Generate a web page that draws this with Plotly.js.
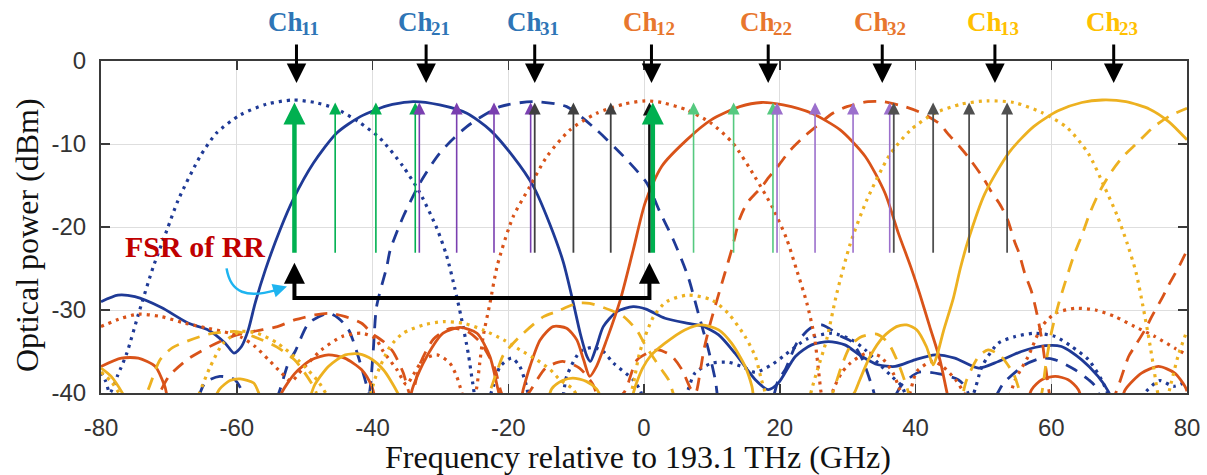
<!DOCTYPE html>
<html><head><meta charset="utf-8">
<script src="https://cdn.plot.ly/plotly-3.0.1.min.js"></script>
<style>html,body{margin:0;padding:0;background:#fff}#chart{width:1207px;height:475px}</style>
</head><body><div id="chart"></div>
<script>
// ---- data: [frequency GHz, power dBm] ----
const ch11Dot = [[-80,-37.5],[-79.3,-38.6],[-78.7,-40],[-77.5,-37.8],[-76.2,-35.2],[-74.3,-30],[-72.3,-24.8],[-70.3,-20.4],[-68.6,-16.7],[-65.4,-11.5],[-63,-8.7],[-59.5,-6.5],[-55.6,-5.2],[-51.7,-4.7],[-48.5,-5.0],[-45.5,-5.7],[-42.1,-7.3],[-38.9,-9.3],[-35.5,-12.7],[-33,-15.9],[-30.5,-20.2],[-29.1,-23.4],[-27.9,-27.3],[-26.9,-31],[-25.9,-35.2],[-25.2,-39],[-24.3,-43],[-23,-41],[-22.2,-39.2],[-21.2,-36.8],[-19.5,-35.8],[-18.3,-36.8],[-17.3,-39.2],[-16.3,-43],[-12.5,-42],[-11.4,-38.0],[-9.4,-35.0],[-7.5,-34.5],[-6,-35.0],[-4.5,-36.4],[-1.6,-38.4],[-0.6,-39.6],[0.5,-42],[3,-44],[5.5,-42],[6.5,-39.6],[7.5,-37.6],[10,-36.4],[12.4,-36.3],[14.4,-36.8],[16.4,-37.5],[18.8,-36.6],[20.8,-35.4],[24,-33.5],[27.7,-32.8],[30.6,-33.6],[32.6,-34.8],[34.5,-36.4],[36.5,-38],[38,-39.2],[39.5,-42],[44,-44],[48.3,-40.5],[49.8,-36.8],[52.2,-34.0],[54.7,-33.2],[57.6,-32.8],[60.6,-33.2],[63,-34.4],[65.5,-36.0],[67.4,-38.4],[68.2,-39.8],[69.5,-43],[72.5,-42],[74,-39.8],[76,-38.5],[78,-39.2],[80,-38.6]];
const ch21Solid = [[-80,-29.0],[-77.5,-28.2],[-75,-28.4],[-71.1,-29.7],[-67.1,-31.6],[-64.2,-32.4],[-61.7,-34.0],[-60.4,-35.2],[-59.3,-34.4],[-58.3,-32.4],[-57.3,-29.2],[-55.8,-25.2],[-53.6,-20.3],[-51.7,-16.7],[-48.7,-12.3],[-45.3,-8.7],[-41.8,-6.7],[-37.9,-5.4],[-34,-4.9],[-30.1,-5.3],[-26.1,-6.3],[-22.7,-8.3],[-19.3,-11.5],[-16.3,-15.1],[-13.9,-19.6],[-11.9,-24.2],[-10.4,-29.2],[-9.4,-32.8],[-8.4,-35.6],[-7.9,-36.2],[-7.0,-34.4],[-6.0,-32.0],[-4.0,-30.2],[-1.6,-29.6],[0.3,-29.9],[3.1,-31.0],[6.5,-31.6],[8.5,-31.9],[11,-33.0],[13.4,-35.2],[16.4,-38.4],[18.3,-39.6],[19.8,-38.8],[22.3,-35.6],[24.7,-34.2],[27.2,-33.8],[29.6,-34.2],[32.1,-35.6],[34.5,-36.6],[37,-36.8],[39.9,-36.0],[42.9,-35.4],[45.8,-35.8],[49.3,-37.0],[52.2,-36.2],[55.6,-35.0],[59.1,-34.3],[61.5,-34.4],[64.5,-36.0],[66.9,-38.0],[68.4,-39.8],[70,-43]];
const ch31Dash = [[-66.5,-43],[-64.7,-38.8],[-62.5,-38.0],[-60.3,-38.4],[-58.7,-40.5],[-56,-44],[-53.8,-40],[-52.4,-36.4],[-51.4,-35.0],[-49.4,-31.6],[-46.5,-30.4],[-45,-31.0],[-43.5,-32.4],[-42.1,-35.6],[-41.1,-38.4],[-40.5,-40],[-39.9,-35],[-39.4,-29.6],[-37.9,-24.8],[-37.4,-22.8],[-35.5,-18.8],[-33,-14.7],[-30.1,-11.1],[-26.1,-7.9],[-21.2,-5.5],[-16.3,-4.9],[-11.4,-5.5],[-7.0,-8.3],[-3.0,-11.5],[0.4,-14.7],[2.4,-18.3],[4.3,-21.5],[6.5,-26],[8,-30.4],[9.5,-34.8],[10.5,-38.4],[11.3,-42],[15,-45],[18.8,-41],[19.8,-38.4],[20.8,-37.2],[22.5,-34],[24.5,-32.2],[26.2,-31.8],[29.1,-33.2],[30.6,-33.8],[32.2,-36],[33.6,-39.2],[34.8,-42],[36.5,-41],[38,-39],[40.5,-37.5],[43.5,-37.7],[46.3,-38.4],[47.3,-39.2],[49,-42],[51.3,-41],[53,-38.8],[56.1,-36.6],[58.6,-35.8],[60.6,-36.0],[63.5,-37.2],[65.5,-38.4],[66.5,-39.2],[67.8,-42]];
const ch12Dot = [[-80,-32.0],[-77,-31.0],[-74.5,-30.5],[-71.1,-30.8],[-67.6,-31.6],[-64.2,-32.2],[-61,-32.8],[-59.3,-33.3],[-57.3,-34.4],[-55.3,-36.0],[-53.4,-37.6],[-52,-38.6],[-50.4,-37.2],[-47.5,-34.8],[-44.5,-33.2],[-41.6,-32.8],[-39.6,-33.4],[-38.4,-35.0],[-36.4,-37.2],[-35,-39.0],[-34,-37.8],[-32.5,-36.0],[-30.5,-35.4],[-28.6,-36.4],[-27.6,-38.0],[-26.9,-39.8],[-25.8,-43],[-24.7,-39.6],[-24.2,-36.4],[-23.7,-33.2],[-22.7,-29.2],[-21.6,-24.6],[-19.3,-18.8],[-16.8,-15.1],[-14.3,-11.5],[-10.9,-8.3],[-7.0,-6.3],[-3.0,-5.2],[0.2,-4.8],[2.6,-5.0],[6.3,-5.9],[9.9,-7.5],[13.1,-9.9],[16.3,-13.9],[18.9,-17.6],[21.0,-21.4],[22.5,-25.2],[24.0,-29.2],[25.1,-33.2],[25.7,-37.2],[26.1,-40],[26.8,-43],[27.9,-39.6],[29.1,-37.6],[30.4,-36.4],[32.8,-35.2],[34.8,-35.6],[36.7,-37.6],[37.7,-39.6],[38.7,-41],[40.2,-37.4],[42.5,-36.2],[44,-36.8],[46,-38.5],[47.5,-40.5],[50,-44],[53.5,-41],[54.7,-38.4],[56.6,-35.6],[58.6,-32.0],[60.6,-30.4],[63.5,-29.8],[66.5,-30.0],[69.4,-30.8],[72.3,-32.0],[75.3,-33.2],[78.2,-34.6],[80,-35.4]];
const ch22Solid = [[-80,-36.8],[-77,-35.8],[-74.5,-35.8],[-72,-36.8],[-70.6,-39.2],[-69.3,-43],[-60,-46],[-54.6,-43],[-53.4,-40],[-51.4,-37.6],[-49,-36.0],[-46.5,-35.4],[-44.1,-35.8],[-41.6,-37.2],[-40.1,-39.2],[-39,-42.5],[-37,-44],[-35,-42],[-34,-39.2],[-32,-35.6],[-29.6,-32.8],[-27.1,-32.1],[-24.6,-32.8],[-22.7,-35.6],[-21.5,-39.6],[-20.4,-43],[-18.8,-43],[-17.8,-39.6],[-16.8,-36.8],[-15.3,-33.6],[-13.4,-32.0],[-11.4,-32.2],[-9.9,-33.6],[-8.9,-36.0],[-8.0,-38.0],[-7.0,-36.8],[-5.5,-33.6],[-3.5,-28.8],[-1.6,-22.8],[0.2,-17.0],[2.6,-12.7],[6.3,-9.5],[9.9,-7.1],[14.1,-5.5],[17.3,-5.0],[20.5,-5.3],[24.7,-6.3],[28.9,-8.3],[32.6,-11.5],[35.5,-15.9],[37.5,-20.8],[39.3,-24.8],[40.6,-28],[42.1,-32],[43.6,-36],[44.6,-39.8],[45.5,-43],[50,-46],[55.6,-43],[57.1,-39.6],[58.6,-38.4],[60.6,-38.0],[62.5,-38.4],[64,-39.6],[65.2,-42.5],[67.5,-44],[69.7,-42.5],[70.9,-39.6],[73.3,-37.6],[75.8,-36.8],[78.2,-37.6],[79.7,-39.2],[80,-39.8]];
const ch32Dash = [[-72.5,-42],[-70,-38],[-67,-35.8],[-63,-34],[-60,-33],[-57,-32.5],[-54,-32],[-51.5,-31.2],[-48.5,-30.6],[-46.5,-30.4],[-44,-30.8],[-41.6,-31.6],[-40.1,-32.8],[-38.4,-33.8],[-37,-35],[-35.5,-37.5],[-34.3,-40.5],[-33,-36.5],[-31,-33.5],[-28.5,-32.2],[-26,-32.6],[-24,-34],[-22,-37],[-21,-40],[-19.5,-42],[-17,-40],[-14.5,-37],[-12,-36.2],[-9.5,-37],[-7.5,-39],[-6.2,-41.5],[-3,-40],[-1,-36],[2,-34.8],[4,-35.5],[5.6,-37.2],[6.9,-39.5],[7.6,-40],[8.3,-37.3],[8.8,-34.9],[9.8,-31.5],[11.9,-25.6],[13,-22.5],[14.1,-19.0],[15.2,-17.1],[17.3,-15.2],[18.4,-14.0],[19.9,-12.5],[21.5,-10.8],[23.6,-9.1],[25.2,-8.0],[27.8,-6.3],[29.9,-5.5],[33,-4.9],[35.2,-4.9],[38.4,-5.5],[41,-6.3],[43.6,-7.6],[44.7,-8.7],[46.8,-10.6],[47.8,-11.6],[49.9,-14.0],[51,-15.5],[52.6,-17.5],[53.6,-19.2],[54.7,-22],[55.2,-23],[56.1,-25.6],[57.1,-27.8],[57.9,-30.5],[58.7,-34],[59.2,-37],[59.7,-40],[60.5,-44],[67,-44],[69.5,-40],[71.4,-35.6],[72.3,-34.4],[73.8,-32.4],[74.8,-30.8],[76.3,-28.6],[77.3,-27.0],[78.8,-24.8],[80,-22.8]];
const ch13Dot = [[-80,-37.5],[-78.5,-38.6],[-77,-40.5],[-75.5,-43],[-68,-44],[-66.5,-42],[-65.5,-40],[-64,-37],[-62,-34],[-59.5,-32.6],[-57,-32.8],[-54,-34],[-51,-36],[-48,-38.6],[-46.5,-40.5],[-44,-43],[-41,-41.5],[-39.5,-38],[-37.4,-34.4],[-35.5,-32.8],[-32.5,-31.8],[-29.6,-31.4],[-26.6,-31.6],[-23.7,-32.4],[-20.7,-33.6],[-18.3,-34.8],[-15.8,-36],[-13.8,-37.2],[-12.4,-38.4],[-10.5,-39.5],[-9,-41.5],[-5,-44],[-2.5,-41.5],[-1.6,-39],[-0.6,-35],[1.4,-30.8],[3.3,-29],[6.5,-28.2],[10,-28.8],[12.4,-30.4],[14.9,-33.2],[16.4,-35.6],[17.3,-38.4],[17.8,-39.8],[18.6,-43],[21,-45],[23.6,-43],[24.7,-39.6],[25.4,-37.6],[26.9,-33.6],[28.4,-28],[30.4,-22],[32.8,-16.8],[36.2,-11.3],[39.3,-8.3],[42.8,-6.3],[46.7,-5.2],[50.5,-4.8],[54.5,-5.0],[58.6,-6.2],[62.3,-8.0],[65.5,-11.2],[67.8,-15.1],[69.7,-18.6],[71.2,-22],[72.5,-25.5],[73.5,-29.5],[74.4,-33.5],[75.2,-37.5],[75.7,-40],[76.6,-42],[77.6,-39],[78.7,-35.5],[80,-32.5]];
const ch23Solid = [[-80,-37],[-78.5,-38],[-76.5,-40.5],[-75,-43],[-66,-44],[-63.5,-41],[-62.5,-39.5],[-61,-38.5],[-59.5,-38.3],[-57.5,-38.8],[-56.5,-40.5],[-55,-43],[-50.5,-43],[-49.2,-40.5],[-48.5,-39],[-46.5,-36.8],[-44,-35.4],[-42,-35.3],[-40,-36.0],[-38.4,-37.2],[-37.4,-38.4],[-36,-40.5],[-35,-43],[-20,-45],[-15,-43],[-13.6,-39.5],[-12,-38.5],[-10.5,-38.2],[-8.5,-38.6],[-7,-39.5],[-6,-41],[-4,-43],[-2.2,-41.5],[-1.2,-39],[-0.2,-37],[1,-35.5],[3.1,-34.0],[6.0,-32.4],[8.5,-31.8],[11,-32.4],[12.9,-34.0],[14.9,-36.8],[15.9,-39.2],[16.7,-42.5],[23,-46],[29.5,-43],[30.6,-40.5],[31.1,-39.8],[31.8,-38.4],[33.3,-35.6],[35.3,-33.2],[37.2,-32.0],[38.7,-31.8],[40.2,-32.4],[41.6,-34.4],[42.6,-36.6],[43.2,-35.4],[44.1,-32.6],[45.6,-28.5],[46.6,-25],[47.8,-21.5],[50.2,-16],[53.8,-11],[57.4,-7.9],[61,-6.0],[64.5,-5.0],[67.5,-4.7],[71,-4.9],[74.5,-5.8],[77.3,-7.3],[80,-9.5]];
const ch33Dash = [[-74.5,-42],[-73,-39.5],[-71.3,-36],[-69.4,-34.5],[-65.4,-33.2],[-63.5,-32.8],[-60,-32.6],[-57.5,-33.2],[-54,-34.5],[-51.5,-36],[-50.3,-37.2],[-48.5,-39.5],[-47.3,-42],[-35,-46],[-24.3,-43],[-23,-40.5],[-21.5,-37],[-20.7,-35.4],[-18.3,-33.2],[-14.8,-30.8],[-12.9,-30.2],[-9.9,-29.2],[-8,-29.2],[-5,-30],[-3,-30.8],[-1,-32.5],[0.15,-34.2],[1.6,-36],[2.6,-37.2],[3.6,-38.4],[4.5,-40.5],[5.8,-43],[16,-46],[26.3,-43],[27.8,-40],[29,-37],[30.3,-34.5],[31.8,-33.3],[34.3,-32.9],[36,-34],[37.5,-36.5],[38.8,-39.5],[39.8,-42.5],[43,-45],[46.3,-42],[47.5,-38.5],[49.3,-35.6],[50.7,-34.8],[52.5,-35.5],[54.5,-37.8],[55.6,-40.5],[56.7,-43],[57.8,-42],[58.6,-40],[59.3,-36],[60,-32.8],[61,-29.5],[62,-26.8],[63.3,-23.5],[64.6,-20.8],[65.7,-18.3],[67.2,-15.6],[68.9,-13.3],[70.6,-11.5],[72.5,-10],[75,-8],[77.5,-6.6],[80,-5.7]];

// optical carriers (vertical arrows), GHz
const greenThickX = [-51.5, 1.3];
const greenLeftX = [-45.5, -39.5, -33.7];
const greenRightX = [7.3, 13.2, 19.0];
const purpleLeftX = [-33.1, -27.6, -22.1, -16.7];
const purpleRightX = [19.6, 25.2, 30.8, 36.2];
const blackLeftX = [-16.1, -10.4, -4.9];
const blackMainX = [0.8];
const blackRightX = [36.8, 42.6, 47.9, 53.5];
const carrierTop = -5.0, carrierBottom = -23.1;

// channels
const chBase = 'Ch';
const chIndex = ['11','21','31','12','22','32','13','23'];
const chPos = [-51.2, -32.1, -16.1, 1.1, 18.3, 35.1, 51.7, 69.2];
const chGroup = [0,0,0,1,1,1,2,2];
const chArrowTip = -2.65;

// FSR bracket
const fsrX = [-51.5, 0.8];
const fsrLineY = -28.55, fsrTipY = -24.3;
// cyan pointer
const cyanTipX = -52.6, cyanTipY = -27.17;

const xTicks = [-80,-60,-40,-20,0,20,40,60,80];
const yTicks = [0,-10,-20,-30,-40];

// ---- styles ----
const BLUE = '#1f3a96', ORANGE = '#d95319', YELLOW = '#edb120';
const labelColors = ['#2e75b6', '#e8772e', '#ffc000'];
const DOT = '3px,5px', DASH = '13px,9px';
const SERIF = 'Liberation Serif, Times New Roman, serif';

function tr(pairs, color, dash, w) {
  return {x: pairs.map(p => p[0]), y: pairs.map(p => p[1]), type: 'scatter', mode: 'lines',
    line: {color: color, dash: dash, width: w, shape: 'spline', smoothing: 0.7}, hoverinfo: 'skip', showlegend: false};
}
const traces = [
  tr(ch11Dot, BLUE, DOT, 3.2), tr(ch21Solid, BLUE, 'solid', 2.8), tr(ch31Dash, BLUE, DASH, 2.8),
  tr(ch12Dot, ORANGE, DOT, 3.2), tr(ch22Solid, ORANGE, 'solid', 2.8), tr(ch32Dash, ORANGE, DASH, 2.8),
  tr(ch13Dot, YELLOW, DOT, 3.2), tr(ch23Solid, YELLOW, 'solid', 2.8), tr(ch33Dash, YELLOW, DASH, 2.8)
];

// carrier arrows: stem lines + arrow-up heads (tip at the data point)
function carriers(xs, color, w, head) {
  const sx = [], sy = [];
  xs.forEach(x => { sx.push(x, x, null); sy.push(carrierBottom, carrierTop - 0.8, null); });
  traces.push({x: sx, y: sy, type: 'scatter', mode: 'lines', line: {color: color, width: w}, hoverinfo: 'skip', showlegend: false});
  traces.push({x: xs, y: xs.map(() => carrierTop), type: 'scatter', mode: 'markers',
    marker: {symbol: 'arrow-up', size: head, color: color, line: {width: 0}}, hoverinfo: 'skip', showlegend: false});
}
carriers(greenLeftX, '#00b050', 1.6, 12);
carriers(purpleLeftX, '#7a3fb0', 1.6, 12);
carriers(blackLeftX, '#404040', 1.8, 12);
carriers(greenRightX, '#55c97f', 1.6, 12);
carriers(purpleRightX, '#9b6fcc', 1.6, 12);
carriers(blackRightX, '#505050', 1.8, 12);
carriers(blackMainX, '#111111', 2.6, 13);
carriers(greenThickX, '#00b050', 4.5, 22);

// FSR bracket
traces.push({x: [fsrX[0], fsrX[0], fsrX[1], fsrX[1]], y: [fsrTipY - 1.5, fsrLineY, fsrLineY, fsrTipY - 1.5],
  type: 'scatter', mode: 'lines', line: {color: '#000', width: 4}, hoverinfo: 'skip', showlegend: false});
traces.push({x: fsrX, y: fsrX.map(() => fsrTipY), type: 'scatter', mode: 'markers',
  marker: {symbol: 'arrow-up', size: 21, color: '#000', line: {width: 0}}, hoverinfo: 'skip', showlegend: false});
traces.push({x: [cyanTipX], y: [cyanTipY], type: 'scatter', mode: 'markers',
  marker: {symbol: 'arrow-right', size: 14, angle: -17, color: '#1eb4f0', line: {width: 0}}, hoverinfo: 'skip', showlegend: false});

const ann = [];
chPos.forEach((x, i) => {
  // downward channel arrow
  ann.push({x: x, y: chArrowTip, xref: 'x', yref: 'y', ax: 0, ay: -40, text: '',
    showarrow: true, arrowhead: 2, arrowwidth: 3, arrowsize: 1.3, arrowcolor: '#000', standoff: 0});
  // label "Ch" + subscript index
  ann.push({x: x, y: 1.118, xref: 'x', yref: 'paper', text: chBase, showarrow: false, xanchor: 'right', yanchor: 'middle',
    xshift: 9, font: {family: SERIF, size: 27, weight: 'bold', color: labelColors[chGroup[i]]}});
  ann.push({x: x, y: 1.118, xref: 'x', yref: 'paper', text: chIndex[i], showarrow: false, xanchor: 'left', yanchor: 'middle',
    xshift: 3, yshift: -7, font: {family: SERIF, size: 19, weight: 'bold', color: labelColors[chGroup[i]]}});
});
ann.push({x: -66.2, y: -22.4, xref: 'x', yref: 'y', text: 'FSR of RR', showarrow: false,
  font: {family: SERIF, size: 30, weight: 'bold', color: '#c00000'}});
// axis titles
ann.push({x: 0.4945, y: -0.193, xref: 'paper', yref: 'paper', text: 'Frequency relative to 193.1 THz (GHz)', showarrow: false,
  xanchor: 'center', yanchor: 'middle', font: {family: SERIF, size: 32, color: '#111'}});
ann.push({x: -0.068, y: 0.476, xref: 'paper', yref: 'paper', text: 'Optical power (dBm)', showarrow: false, textangle: -90,
  xanchor: 'center', yanchor: 'middle', font: {family: SERIF, size: 32, color: '#111'}});

const shapes = [
  {type: 'path', xref: 'x', yref: 'y', path: 'M -61.5,-24.98 C -60.9,-28.0 -58.5,-28.6 -54.2,-27.6', line: {color: '#1eb4f0', width: 2.5}}
];

const axisCommon = {ticks: 'inside', ticklen: 9, tickwidth: 1.5, tickcolor: '#3a3a3a', showline: true,
  linecolor: '#3a3a3a', linewidth: 2, mirror: 'ticks', showgrid: true, gridcolor: '#dedede', gridwidth: 1,
  zeroline: false, tickfont: {family: 'Liberation Sans, Arial, sans-serif', size: 24, color: '#333'}};

const layout = {
  width: 1207, height: 475, margin: {l: 101, r: 20, t: 61, b: 82}, paper_bgcolor: '#fff', plot_bgcolor: '#fff',
  xaxis: Object.assign({}, axisCommon, {range: [-80, 80], tickvals: xTicks, ticktext: xTicks.map(String), ticklabelstandoff: 12}),
  yaxis: Object.assign({}, axisCommon, {range: [-40, 0], tickvals: yTicks, ticktext: yTicks.map(String), ticklabelstandoff: 8}),
  annotations: ann, shapes: shapes, showlegend: false
};
Plotly.newPlot('chart', traces, layout, {displayModeBar: false, staticPlot: true});
</script></body></html>
